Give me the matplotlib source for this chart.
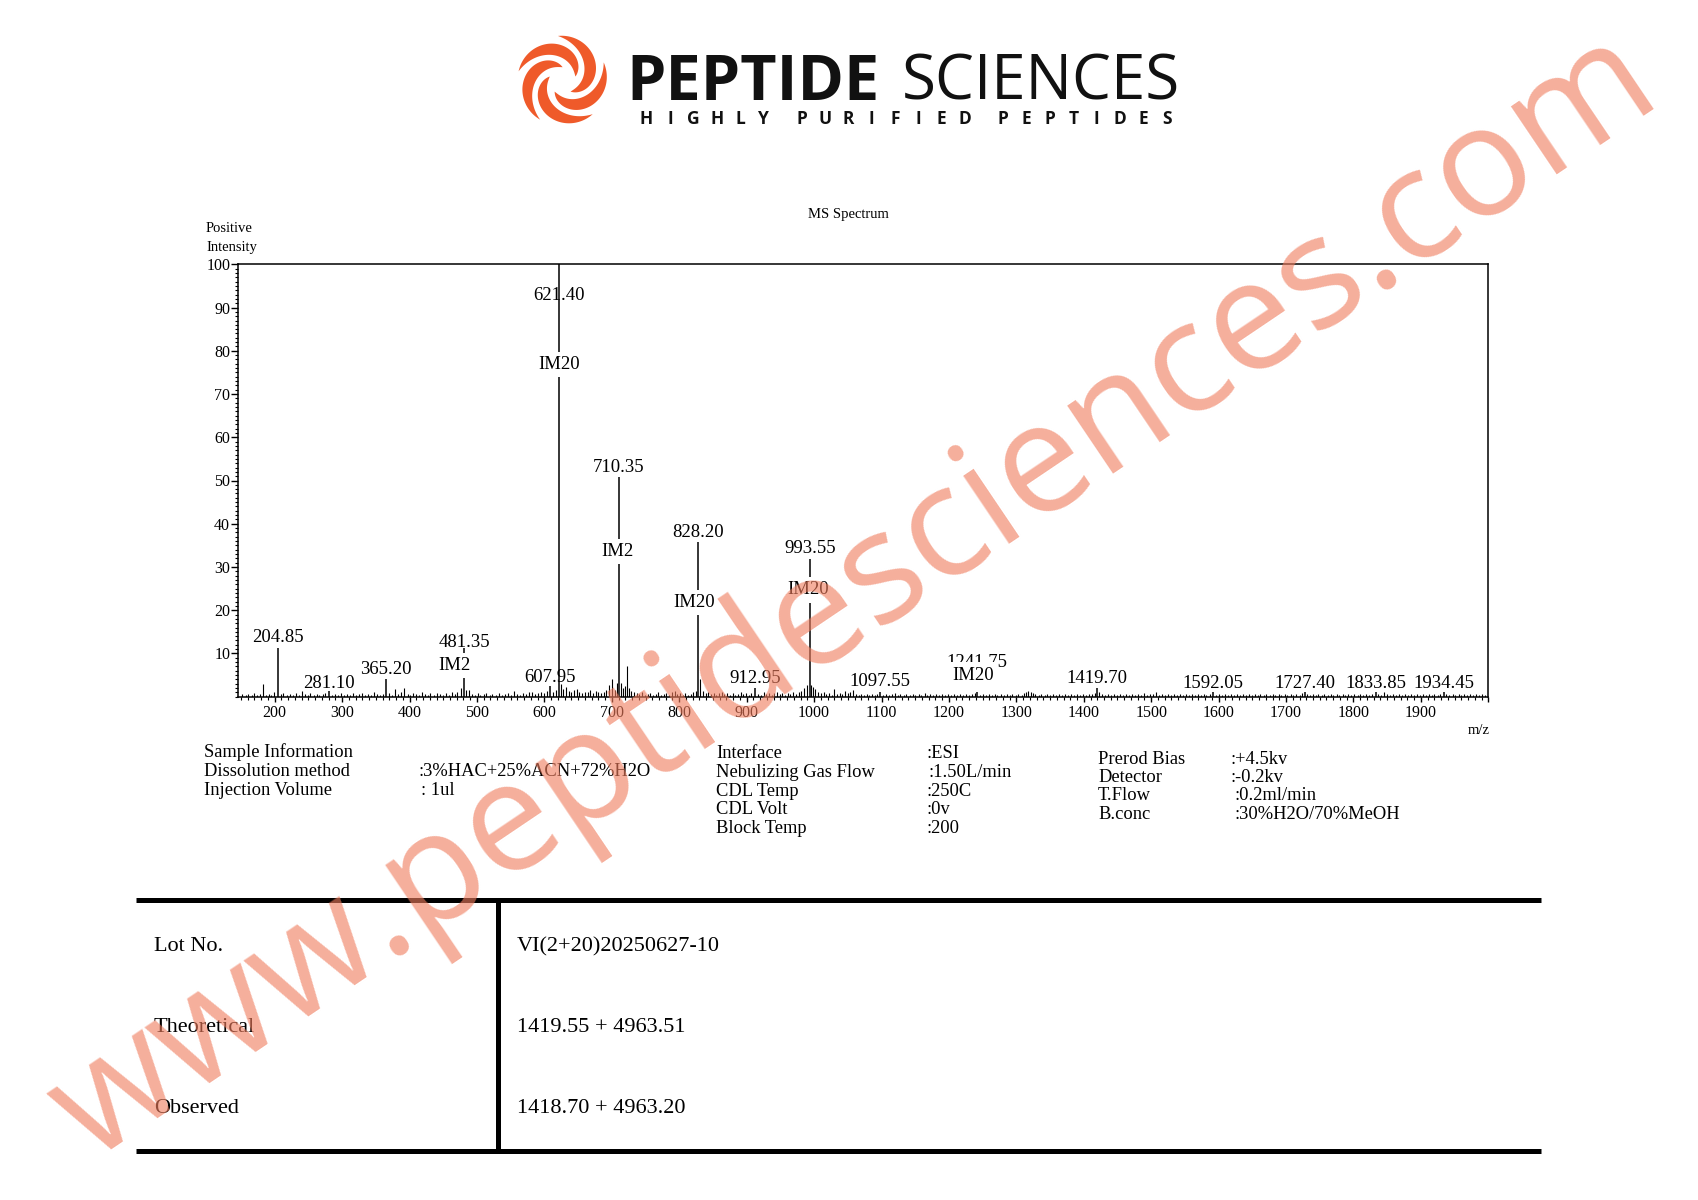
import numpy as np
import matplotlib
matplotlib.use("Agg")
import matplotlib.pyplot as plt
from matplotlib.lines import Line2D
from matplotlib.patches import Polygon

# ---------------- data ----------------
x_ticks = [200, 300, 400, 500, 600, 700, 800, 900, 1000, 1100, 1200, 1300,
           1400, 1500, 1600, 1700, 1800, 1900, 2000]
x_tick_labels = ['200', '300', '400', '500', '600', '700', '800', '900', '1000',
                 '1100', '1200', '1300', '1400', '1500', '1600', '1700', '1800',
                 '1900', '']
y_ticks = [10, 20, 30, 40, 50, 60, 70, 80, 90, 100]

# labelled peaks (m/z, drawn line height in %)
peak_mz = [204.85, 281.10, 365.20, 481.35, 607.95, 621.40, 710.35, 828.20,
           912.95, 993.55, 1097.55, 1241.75, 1419.70, 1592.05, 1727.40,
           1833.85, 1934.45]
peak_h = [11.2, 1.3, 4.0, 11.3, 2.5, 100.0, 50.8, 35.8,
          2.1, 31.8, 1.2, 1.0, 2.1, 1.0, 1.1, 1.0, 1.0]
label_text = ['204.85', '281.10', '365.20', '481.35', '607.95', '621.40',
              '710.35', '828.20', '912.95', '993.55', '1097.55', '1241.75',
              '1419.70', '1592.05', '1727.40', '1833.85', '1934.45']
label_y = [13.7, 3.1, 6.2, 12.6, 4.5, 92.9, 52.9, 37.9, 4.1, 34.2, 3.5,
           7.8, 4.1, 3.1, 3.1, 3.1, 3.1]

# ion-mode tags
im_text = ['IM2', 'IM20', 'IM2', 'IM20', 'IM20', 'IM20']
im_x = [466, 622, 708, 822, 991, 1236]
im_y = [7.3, 76.9, 33.5, 21.7, 24.7, 5.0]

# minor peaks / baseline noise (m/z, intensity %)
noise_low = [
    (152, .6), (157, .4), (161, .7), (166, .5), (170, .8), (174, .4), (178, .6),
    (182.8, 2.9), (187, .5), (191, .7), (195, .4), (199, 1.0),
    (209, .6), (213, .8), (218, .5), (222, .7), (227, .4), (231, .9), (236, .5),
    (240, 1.3), (245, .6), (249, .5), (253, .8), (258, .4), (262, .7), (266, .5),
    (271, .6), (275, .9), (285, .5), (290, .7), (294, .4), (298, .8),
    (303, .5), (307, .7), (312, .4), (316, .9), (320, .5), (325, .6), (329, .8),
    (334, .4), (338, .7), (343, .5), (347, 1.0), (352, .6), (356, .4), (360, .7),
    (370, .8), (374, .5), (379, 1.7), (383, .6), (387, 1.0), (392.5, 2.0), (397, .7),
    (401, .5), (405, .9), (410, .6), (414, .4), (418, 1.2), (423, .7), (427, .5),
    (431, .8), (436, .4), (440, .9), (445, .6), (449, .5), (454, .9), (458, .4),
    (463, 1.0), (467, .6), (471, 1.2), (476, 2.1), (484, 1.6), (488, 1.5),
    (492, .7), (497, .5),
    (501, .8), (505, .4), (510, .6), (514, .9), (519, .5), (523, .7), (528, .4),
    (532, .8), (537, .5), (541, .6), (546, .9), (550, .4), (555, 1.4), (559, .6),
    (564, .5), (568, .8), (573, .6), (577, 1.0), (582, 1.2), (586, .7), (591, .9),
    (595, 1.1), (600, .8),
]
noise_mid = [
    (604, 1.4), (613, 1.2), (617, 1.5), (625, 2.9), (628, 1.8), (632, 2.2),
    (636, 1.3), (640, 1.0), (644, 1.6), (648, 1.8), (652, 1.1), (656, .9),
    (660, 1.2), (664, 1.0), (668, 1.5), (672, .8), (676, 1.3), (680, 1.1),
    (684, .9), (688, 1.2), (692, 1.6), (696, 2.6), (700, 4.0), (704, 1.5),
    (708, 3.2), (713, 3.2), (716, 2.0), (719, 2.4), (722, 7.1), (726, 2.0),
    (729, 1.4), (733, 1.2), (737, .9), (741, .6), (745, 1.0), (749, .5),
    (753, .7), (757, .9), (761, .4), (765, .7), (769, 1.1), (773, .5), (777, .6),
    (781, .9), (785, .5), (789, 1.0), (793, 1.3), (797, .6),
    (801, .8), (805, .5), (809, .9), (813, .4), (817, .7), (821, 1.1), (825, 1.4),
    (831, 4.0), (835, 1.3), (839, .8), (843, 1.2), (847, .6), (851, .9), (855, .5),
    (859, .8), (863, 1.1), (867, .6), (871, .9), (875, .5), (879, .8), (883, .4),
    (887, .7), (891, 1.0), (895, .6), (899, .8),
    (903, .5), (907, .9), (917, .7), (921, .5), (925, 1.0), (929, .6), (933, .8),
    (937, .5), (941, .9), (945, 1.2), (949, .6), (953, .8), (957, .5), (961, .9),
    (965, .6), (969, 1.0), (973, .7), (977, 1.1), (981, 1.4), (985, 2.0),
    (989, 2.6), (996, 2.6), (999, 2.3),
    (1002, 1.8), (1006, 1.2), (1010, .9), (1014, 1.0), (1018, .6), (1022, .8),
    (1026, .5), (1030, 1.8), (1034, .7), (1038, .9), (1042, .6), (1046, 1.4),
    (1050, .8), (1054, 1.2), (1058, 1.5), (1062, .6), (1066, .5), (1070, .7),
    (1074, .4), (1078, .6), (1082, .5), (1086, .7), (1090, .4), (1094, .6),
]
noise_high = [
    (1102, .5), (1106, .7), (1111, .4), (1115, .6), (1120, .9), (1124, .5),
    (1128, .7), (1133, .4), (1137, .6), (1142, .5), (1146, .7), (1150, .4),
    (1155, .6), (1159, .5), (1164, .8), (1168, .4), (1172, .6), (1177, .5),
    (1181, .7), (1186, .4), (1190, .6), (1194, .5), (1199, .7),
    (1203, .5), (1208, .7), (1212, .4), (1216, .6), (1221, .5), (1225, .7),
    (1230, .4), (1234, .6), (1238, .8), (1246, .5), (1250, .7), (1255, .4),
    (1259, .6), (1264, .5), (1268, .7), (1272, .4), (1277, .6), (1281, .5),
    (1286, .7), (1290, .4), (1294, .6), (1299, .5),
    (1303, .7), (1308, .4), (1312, .8), (1315, 1.1), (1318, 1.3), (1321, 1.2),
    (1324, .9), (1328, .6), (1333, .5), (1337, .7), (1342, .4), (1346, .6),
    (1350, .5), (1355, .7), (1359, .4), (1364, .6), (1368, .5), (1372, .7),
    (1377, .4), (1381, .6), (1386, .5), (1390, .7), (1394, .4), (1399, .6),
    (1403, .5), (1408, .7), (1412, .6), (1416, .9), (1423, 1.2), (1427, .6),
    (1432, .5), (1436, .7), (1441, .4), (1445, .6), (1450, .5), (1454, .7),
    (1458, .4), (1463, .6), (1467, .5), (1472, .7), (1476, .4), (1480, .6),
    (1485, .5), (1489, .8), (1494, .4), (1498, .6),
    (1503, .7), (1507, 1.0), (1512, .5), (1516, .6), (1521, .4), (1525, .7),
    (1530, .5), (1534, .6), (1538, .4), (1543, .7), (1547, .5), (1552, .6),
    (1556, .4), (1560, .7), (1565, .5), (1569, .6), (1574, .4), (1578, .7),
    (1582, .5), (1587, .6), (1596, .5),
    (1601, .6), (1605, .4), (1610, .7), (1614, .5), (1618, .6), (1623, .4),
    (1627, .7), (1632, .5), (1636, .6), (1640, .4), (1645, .7), (1649, .5),
    (1654, .6), (1658, .4), (1662, .7), (1667, .5), (1671, .6), (1676, .4),
    (1680, .7), (1684, .5), (1689, .6), (1693, .4), (1698, .7),
    (1702, .5), (1707, .6), (1711, .4), (1715, .7), (1720, .5), (1724, .8),
    (1731, .6), (1735, .4), (1740, .7), (1744, .5), (1748, .6), (1753, .4),
    (1757, .7), (1762, .5), (1766, .6), (1770, .4), (1775, .7), (1779, .5),
    (1784, .6), (1788, .4), (1792, .7), (1797, .5),
    (1801, .6), (1806, .4), (1810, .7), (1814, .5), (1819, .6), (1823, .4),
    (1828, .7), (1837, .6), (1841, .5), (1846, 1.0), (1850, .6), (1854, .4),
    (1859, .7), (1863, .5), (1868, .6), (1872, .4), (1876, .7), (1881, .5),
    (1885, .6), (1890, .4), (1894, .7), (1898, .5),
    (1903, .6), (1907, .4), (1912, .7), (1916, .5), (1920, .6), (1925, .4),
    (1929, .7), (1938, .6), (1942, .5), (1947, .7), (1951, .4), (1956, .6),
    (1960, .5), (1964, .7), (1969, .4), (1973, .6), (1978, .5), (1982, .7),
    (1986, .4), (1991, .6), (1995, .5),
]

info1_labels = ['Sample Information', 'Dissolution method', 'Injection Volume']
info1_values = ['', ':3%HAC+25%ACN+72%H2O', ': 1ul']
info2_labels = ['Interface', 'Nebulizing Gas Flow', 'CDL Temp', 'CDL Volt', 'Block Temp']
info2_values = [':ESI', ':1.50L/min', ':250C', ':0v', ':200']
info3_labels = ['Prerod Bias', 'Detector', 'T.Flow', 'B.conc']
info3_values = [':+4.5kv', ':-0.2kv', ':0.2ml/min', ':30%H2O/70%MeOH']

table_labels = ['Lot No.', 'Theoretical', 'Observed']
table_values = ['VI(2+20)20250627-10', '1419.55 + 4963.51', '1418.70 + 4963.20']

logo_words = ['PEPTIDE', 'SCIENCES']
tagline_words = ['HIGHLY', 'PURIFIED', 'PEPTIDES']

# ---------------- figure ----------------
SERIF = ['Liberation Serif', 'DejaVu Serif']
SANS = ['Open Sans', 'DejaVu Sans']
plt.rcParams['font.family'] = SERIF

W, H = 1698.0, 1200.0
fig = plt.figure(figsize=(W / 100, H / 100), dpi=100, facecolor='white')


def fx(x):
    return x / W


def fy(y):
    return 1 - y / H


# ---- spectrum axes ----
ax_l, ax_r, ax_t, ax_b = 238.3, 1488.3, 264.3, 696.7
ax = fig.add_axes([fx(ax_l), fy(ax_b), (ax_r - ax_l) / W, (ax_b - ax_t) / H])

noise = noise_low + noise_mid + noise_high
n_mz = [p[0] for p in noise]
n_h = [p[1] for p in noise]
ax.vlines(n_mz, 0, n_h, color='black', lw=0.8, zorder=2)
ax.vlines(peak_mz, 0, peak_h, color='black', lw=1.1, zorder=2)

ax.set_xlim(146, 2000)
ax.set_ylim(0, 100)

TICK_FS = 11.5
ax.set_xticks(x_ticks)
ax.set_xticklabels(x_tick_labels, fontsize=TICK_FS)
ax.set_xticks(np.arange(150, 2001, 10), minor=True)
ax.set_yticks(y_ticks)
ax.set_yticklabels([str(v) for v in y_ticks], fontsize=TICK_FS)
ax.set_yticks(np.arange(0, 101, 1), minor=True)
ax.tick_params(axis='x', which='major', direction='out', length=3.8, width=1.0, pad=2.0)
ax.tick_params(axis='x', which='minor', direction='out', length=1.8, width=0.8)
ax.tick_params(axis='y', which='major', direction='out', length=4.8, width=1.0, pad=1.0)
ax.tick_params(axis='y', which='minor', direction='out', length=2.2, width=0.8)
for s in ax.spines.values():
    s.set_linewidth(1.1)

PEAK_FS = 13.5
for x, y, s in zip(peak_mz, label_y, label_text):
    ax.text(x, y, s, ha='center', va='center', fontsize=PEAK_FS, zorder=5)
for x, y, s in zip(im_x, im_y, im_text):
    ax.text(x, y, s, ha='center', va='center', fontsize=PEAK_FS, zorder=6,
            bbox=dict(boxstyle='square,pad=0.22', facecolor='white', edgecolor='none'))

# chart captions
fig.text(fx(848), fy(214.5), 'MS Spectrum', ha='center', va='center', fontsize=10.5)
fig.text(fx(206), fy(228.5), 'Positive', ha='left', va='center', fontsize=10.5)
fig.text(fx(206), fy(247), 'Intensity', ha='left', va='center', fontsize=10.5)
fig.text(fx(1490), fy(730), 'm/z', ha='right', va='center', fontsize=10.5)

# ---- sample / instrument information ----
INFO_FS = 13.3
for i, (lab, val) in enumerate(zip(info1_labels, info1_values)):
    y = 751.6 + i * 19.5
    fig.text(fx(203.6), fy(y), lab, ha='left', va='center', fontsize=INFO_FS)
    if val:
        fig.text(fx(419 if i == 1 else 421), fy(y), val, ha='left', va='center', fontsize=INFO_FS)
for i, (lab, val) in enumerate(zip(info2_labels, info2_values)):
    y = 753.8 + i * 18.7
    fig.text(fx(716), fy(y), lab, ha='left', va='center', fontsize=INFO_FS)
    fig.text(fx(927 if i != 1 else 929), fy(y), val, ha='left', va='center', fontsize=INFO_FS)
for i, (lab, val) in enumerate(zip(info3_labels, info3_values)):
    y = 759 + i * 18.5
    fig.text(fx(1098), fy(y), lab, ha='left', va='center', fontsize=INFO_FS)
    fig.text(fx(1231 if i < 2 else 1234), fy(y), val, ha='left', va='center', fontsize=INFO_FS)

# ---- lot table ----
TL, TR, TT, TB, TV = 136, 1541, 900, 1151, 498
for yy in (TT, TB):
    fig.add_artist(Line2D([fx(TL), fx(TR)], [fy(yy), fy(yy)], color='black', lw=3.6,
                          transform=fig.transFigure, solid_capstyle='butt'))
fig.add_artist(Line2D([fx(TV), fx(TV)], [fy(TT), fy(TB)], color='black', lw=3.6,
                      transform=fig.transFigure, solid_capstyle='butt'))
for i, (lab, val) in enumerate(zip(table_labels, table_values)):
    y = 946.5 + i * 81.2
    fig.text(fx(154), fy(y), lab, ha='left', va='center', fontsize=16)
    fig.text(fx(517), fy(y), val, ha='left', va='center', fontsize=16)

# ---- logo ----
ORANGE = '#ef5a2a'
lc_x, lc_y, R = 562.6, 80.7, 45.0
ax_logo = fig.add_axes([fx(lc_x - 50), fy(lc_y + 50), 100 / W, 100 / H])
ax_logo.set_xlim(-50, 50)
ax_logo.set_ylim(-50, 50)
ax_logo.axis('off')
t = np.linspace(0, 1, 80)
for k in range(5):
    th0 = np.deg2rad(90 + 72 * k)
    ang = th0 + t * np.deg2rad(150)
    ro = R * (0.30 + 0.70 * np.sin(t * np.pi / 2))
    ri = R * (0.30 + 0.70 * t ** 1.7)
    outer = np.c_[ro * np.cos(ang), ro * np.sin(ang)]
    inner = np.c_[ri * np.cos(ang), ri * np.sin(ang)][::-1]
    ax_logo.add_patch(Polygon(np.vstack([outer, inner]), closed=True,
                              facecolor=ORANGE, edgecolor='none'))

fig.canvas.draw()
renderer = fig.canvas.get_renderer()


def fit_width(txt, target):
    w = txt.get_window_extent(renderer).width
    txt.set_fontsize(txt.get_fontsize() * target / w)


t1 = fig.text(fx(626), fy(99.6), logo_words[0], ha='left', va='baseline',
              fontsize=40, family=SANS, weight='bold', color='#111111')
fit_width(t1, 253)
t2 = fig.text(fx(902), fy(99.6), logo_words[1], ha='left', va='baseline',
              fontsize=40, family=SANS, weight='normal', color='#111111')
fit_width(t2, 278)

# tagline: widely letter-spaced capitals
slot, word_gap = 23.4, 14.5
xpos = 646.5
for wi, word in enumerate(tagline_words):
    for ch in word:
        fig.text(fx(xpos), fy(124.0), ch, ha='center', va='baseline',
                 fontsize=12.5, family=SANS, weight='bold', color='#111111')
        xpos += slot
    xpos += word_gap

# ---- watermark ----
wm = fig.text(fx(855), fy(598), 'www.peptidesciences.com', ha='center', va='center',
              fontsize=100, family=SANS, color='#f07d5e', alpha=0.62, zorder=50)
fit_width(wm, 1900)
wm.set_rotation(34)
wm.set_rotation_mode('anchor')

fig.savefig('out.png', dpi=100, facecolor='white')
